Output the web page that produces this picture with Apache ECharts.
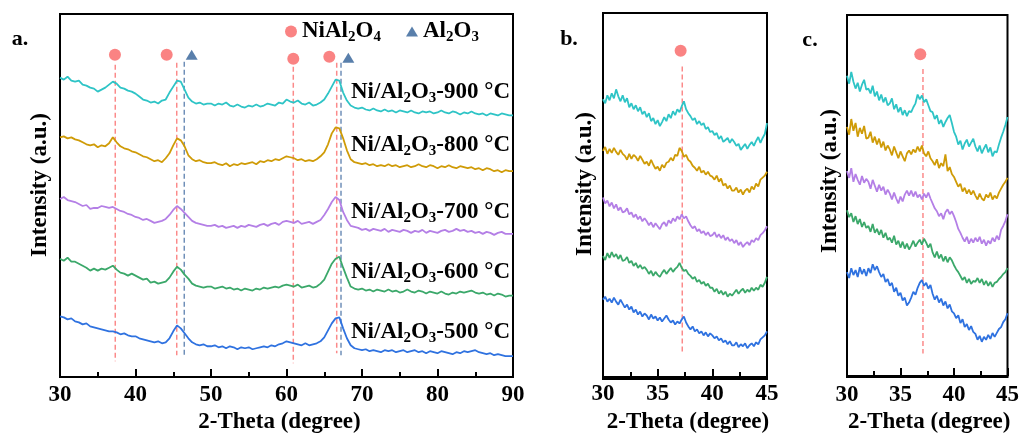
<!DOCTYPE html>
<html><head><meta charset="utf-8">
<script src="https://cdn.jsdelivr.net/npm/echarts@6/dist/echarts.min.js"></script>
<style>html,body{margin:0;padding:0;background:#fff}#c{width:1022px;height:439px}</style>
</head><body><div id="c"></div><script>
// ---------- DATA ----------
// Panel a: 2θ 30–90, step 0.5 (121 samples); intensities (offset-stacked, a.u.)
const thetaA = Array.from({length: 121}, (_, i) => 30 + i * 0.5);
const a900 = [301,299,302,298,297,298,294,293,291,290, 287,289,291,294,297,295,291,290,288,287,
  285,282,279,278,276,277,275,278,279,286, 292,298,297,289,281,277,275,276,274,275,
  275,273,275,274,276,273,272,274,272,271, 273,272,274,272,273,275,274,273,276,275,
  279,277,276,278,275,274,276,273,274,276, 279,285,292,299,298,286,278,273,271,270,
  271,269,268,270,268,267,269,267,268,266, 268,267,266,268,266,265,267,266,267,265,
  266,268,266,265,267,266,264,266,265,267, 265,264,265,263,265,264,263,265,264,263, 263];
const a800 = [241,242,240,241,239,238,236,234,233,234, 231,233,232,235,241,236,232,230,229,227,
  226,224,222,221,219,217,218,216,220,225, 233,240,238,232,223,219,217,218,216,215,
  215,216,214,213,215,212,214,213,215,214, 215,216,214,217,216,218,217,219,218,220,
  222,221,220,218,219,217,218,217,219,222, 226,234,245,251,250,240,228,219,216,215,
  214,215,213,214,212,213,212,214,212,213, 211,212,213,211,212,214,212,211,213,212,
  210,212,211,213,211,210,212,211,210,211, 209,210,208,210,209,207,208,206,208,207, 207];
const a700 = [179,181,178,177,176,174,172,173,169,170, 170,172,171,170,171,169,167,166,164,163,
  161,160,158,159,157,155,156,157,159,163, 168,172,169,165,161,157,155,154,153,152,
  152,153,151,152,150,151,152,150,152,151, 153,152,151,153,154,152,154,155,153,156,
  157,156,155,157,154,155,156,154,156,158, 163,169,176,181,178,166,158,152,151,150,
  148,149,147,149,148,147,149,146,148,147, 146,148,147,145,147,146,148,145,147,146,
  145,147,148,146,147,149,147,148,146,147, 145,146,144,146,145,143,145,146,144,144, 144];
const a600 = [119,117,120,116,116,114,112,110,107,109, 107,109,108,110,112,108,105,104,102,104,
  102,100,98,99,95,96,94,95,96,100, 106,111,108,103,99,94,92,91,90,91,
  91,89,90,91,89,90,88,89,87,89, 88,87,89,88,90,89,90,91,90,92,
  93,92,91,93,90,91,92,90,91,94, 98,106,114,119,121,110,100,91,89,88,
  89,87,88,86,88,87,86,88,86,87, 85,86,88,86,85,87,86,84,86,85,
  84,86,84,83,85,84,86,85,86,87, 85,84,85,83,84,82,84,83,81,82, 82];
const a500 = [61,60,58,59,56,55,53,54,51,50, 49,48,47,46,46,45,43,44,42,41,
  41,39,38,37,36,35,36,34,35,39, 46,52,49,44,39,35,33,32,33,31,
  31,32,30,31,29,31,30,28,30,29, 30,28,29,30,31,30,32,31,33,34,
  36,35,34,33,32,34,32,33,34,36, 40,47,54,59,60,49,39,32,29,28,
  27,28,26,27,26,25,27,26,27,25, 26,27,25,26,27,25,26,24,26,25,
  24,26,25,24,23,25,24,26,25,26, 27,25,24,23,24,22,23,22,21,21, 21];

// Panels b, c: 2θ 30–45, step 0.2 (76 samples)
const thetaBC = Array.from({length: 76}, (_, i) => +(30 + i * 0.2).toFixed(1));
const b900 = [280,276,284,279,286,281,290,283,278,284, 277,281,272,276,270,274,268,272,265,268,
  262,266,258,261,255,259,253,257,262,258, 265,261,268,264,270,267,273,278,270,266,
  263,259,261,255,258,254,256,250,252,247, 248,244,246,240,243,237,239,241,236,240,
  237,233,235,229,232,235,230,234,237,233, 238,242,236,241,245,256];
const b800 = [228,232,225,230,226,231,227,224,229,225, 223,219,225,220,224,222,218,223,219,215,
  217,213,219,214,210,212,208,214,211,216, 217,221,218,224,223,231,228,222,224,219,
  217,213,211,208,212,206,208,204,207,203, 202,199,203,197,200,193,195,190,193,188,
  188,191,186,189,184,188,190,186,192,189, 195,192,199,201,203,207];
const b700 = [181,175,178,172,176,170,174,168,171,166, 167,170,164,166,161,164,159,162,157,160,
  157,153,156,151,155,152,149,154,156,152, 158,155,160,157,162,159,164,160,162,157,
  153,150,152,147,149,145,147,143,146,142, 143,146,141,144,140,143,138,141,137,139,
  135,138,133,136,131,134,136,133,138,136, 140,138,143,145,148,152];
const b600 = [122,118,125,120,126,121,124,119,123,117, 118,121,115,117,112,115,110,113,109,111,
  108,104,107,102,106,103,101,105,108,104, 107,110,106,109,111,115,110,107,108,104,
  102,99,101,96,98,94,96,92,94,90, 90,86,89,84,87,83,86,81,84,82,
  85,88,84,87,89,85,88,86,90,87, 90,88,93,91,95,101];
const b500 = [78,81,76,79,75,80,76,73,78,74, 70,73,68,71,65,68,63,66,61,64,
  62,58,63,59,61,57,60,56,59,62, 58,55,57,53,56,54,58,61,55,51,
  48,51,46,48,44,46,42,45,41,44, 42,39,41,37,39,35,37,33,36,32,
  32,35,30,33,31,34,29,32,34,31, 35,33,38,40,42,46];

const c900 = [306,298,310,300,293,299,290,297,302,292, 293,288,296,285,290,281,287,279,284,276,
  278,283,272,277,269,274,266,271,265,270, 269,274,278,287,282,286,279,282,276,270,
  269,262,266,257,261,254,259,263,266,258, 249,244,236,240,231,237,241,234,238,242,
  234,229,235,227,232,236,228,233,224,229, 228,236,243,249,256,264];
const c800 = [254,246,262,250,258,244,253,247,255,242, 243,249,238,244,236,242,233,239,230,235,
  231,225,234,228,222,229,224,219,227,230, 226,231,228,234,229,235,227,224,229,222,
  219,215,221,212,217,214,226,209,213,206, 203,198,193,196,188,192,186,190,185,189,
  184,180,186,181,179,185,182,187,180,184, 181,187,191,195,198,202];
const c700 = [209,202,212,198,206,200,195,204,197,201, 198,191,200,194,188,195,189,193,185,190,
  186,180,187,181,176,183,178,185,189,184, 189,183,188,182,185,180,186,182,187,181,
  176,171,168,163,166,160,167,170,165,168, 163,157,150,146,141,137,142,135,140,136,
  141,137,142,135,139,133,138,135,141,137, 143,139,149,153,158,165];
const c600 = [169,162,166,157,163,155,160,152,157,151, 153,147,155,146,150,144,149,141,146,139,
  141,136,143,134,138,131,137,130,135,129, 133,138,132,136,139,134,140,136,131,135,
  126,121,127,120,124,117,122,116,121,118, 113,109,106,102,98,101,95,99,94,97,
  96,100,95,99,93,97,92,96,91,95, 96,99,101,104,106,110];
const c500 = [106,100,110,103,108,101,111,104,109,102, 110,105,114,108,112,106,101,104,96,99,
  92,95,86,90,82,85,77,80,72,75, 80,86,83,90,95,98,92,95,89,93,
  84,78,82,75,79,72,76,69,73,66, 64,59,62,54,58,50,53,47,51,45,
  43,37,41,35,40,37,42,38,44,40, 44,48,50,55,58,64];

const seriesNames = ['900', '800', '700', '600', '500'];
const seriesColors = ['#2ec4c6', '#cf9b07', '#b47fe6', '#3ba86a', '#2f72e0'];

// Reference peak markers (panel a)
const niAl2O4PeakX = [37.28, 44.13, 60.9, 65.67];
const niAl2O4PeakY = [324, 324, 320, 322];
const al2o3PeakX = [47.44, 68.19];
const al2o3PeakY = [324, 321];
// Dashed guide lines (panel a)
const redGuideX = [37.32, 45.46, 60.9, 66.65];
const redGuideTop = [314, 316, 312, 316];
const redGuideBot = [16, 22, 14, 24];
const blueGuideX = [46.46, 67.22];
const blueGuideTop = [317, 316];
const blueGuideBot = [20, 22];
// Panels b, c guide + marker
const bGuideX = 37.25, bMarkX = 37.1;
const cGuideX = 37.1, cMarkX = 36.85;

// ---------- CHART ----------
const FF = '"Liberation Serif","Times New Roman",serif';
const FS = 23;
const chart = echarts.init(document.getElementById('c'));
const zip = (xs, ys) => xs.map((x, i) => [x, ys[i]]);

function xAx(gi, min, max, interval, margin, gap, pad) {
  return {
    type: 'value', gridIndex: gi, min, max, interval,
    axisLine: {show: true, lineStyle: {color: '#000', width: 2}},
    axisTick: {show: true, inside: true, length: 8, lineStyle: {color: '#000', width: 2}},
    minorTick: {show: true, splitNumber: 2, length: 5, lineStyle: {color: '#000', width: 2}},
    splitLine: {show: false}, minorSplitLine: {show: false},
    axisLabel: {color: '#000', fontFamily: FF, fontWeight: 'bold', fontSize: FS, margin},
    name: '2-Theta (degree)', nameLocation: 'middle', nameGap: gap,
    nameTextStyle: {color: '#000', fontFamily: FF, fontWeight: 'bold', fontSize: FS, padding: pad}
  };
}
function yAx(gi, min, max) {
  return {type: 'value', gridIndex: gi, min, max, axisLine: {show: false}, axisTick: {show: false},
    axisLabel: {show: false}, splitLine: {show: false}};
}

const series = [];
function guide(xi, x, top, bot, color) {
  series.push({type: 'line', xAxisIndex: xi, yAxisIndex: xi, data: [[x, top], [x, bot]],
    showSymbol: false, silent: true, z: 1, lineStyle: {color, width: 1.5, type: [5, 3]}});
}
redGuideX.forEach((x, i) => guide(0, x, redGuideTop[i], redGuideBot[i], '#fb8a8a'));
blueGuideX.forEach((x, i) => guide(0, x, blueGuideTop[i], blueGuideBot[i], '#6f8fb8'));
guide(1, bGuideX, 313, 23, '#fb8a8a');
guide(2, cGuideX, 313, 23, '#fb8a8a');

const panelA = [a900, a800, a700, a600, a500];
const panelB = [b900, b800, b700, b600, b500];
const panelC = [c900, c800, c700, c600, c500];
[[panelA, thetaA], [panelB, thetaBC], [panelC, thetaBC]].forEach(([set, xs], pi) => {
  set.forEach((ys, k) => series.push({
    type: 'line', name: seriesNames[k] + '-' + pi, xAxisIndex: pi, yAxisIndex: pi,
    data: zip(xs, ys), showSymbol: false, z: 2,
    lineStyle: {color: seriesColors[k], width: 1.8}
  }));
});

series.push({type: 'scatter', name: 'NiAl2O4', xAxisIndex: 0, yAxisIndex: 0, symbol: 'circle', symbolSize: 12,
  itemStyle: {color: '#f96464'}, data: zip(niAl2O4PeakX, niAl2O4PeakY), z: 3});
series.push({type: 'scatter', name: 'Al2O3', xAxisIndex: 0, yAxisIndex: 0, symbol: 'triangle', symbolSize: [12, 10],
  itemStyle: {color: '#2f5f96'}, data: zip(al2o3PeakX, al2o3PeakY), z: 3});
series.push({type: 'scatter', name: 'NiAl2O4', xAxisIndex: 1, yAxisIndex: 1, symbol: 'circle', symbolSize: 12,
  itemStyle: {color: '#f96464'}, data: [[bMarkX, 329]], z: 3});
series.push({type: 'scatter', name: 'NiAl2O4', xAxisIndex: 2, yAxisIndex: 2, symbol: 'circle', symbolSize: 12,
  itemStyle: {color: '#f96464'}, data: [[cMarkX, 328]], z: 3});

const richOpt = {
  n: {fontFamily: FF, fontWeight: 'bold', fontSize: FS, color: '#000'},
  s: {fontFamily: FF, fontWeight: 'bold', fontSize: 15, color: '#000', verticalAlign: 'bottom', lineHeight: 26}
};
const legendFmt = n => n === 'NiAl2O4' ? '{n|NiAl}{s|2}{n|O}{s|4}' : '{n|Al}{s|2}{n|O}{s|3}';
function leg(name, icon, left, w, h) {
  return {data: [{name, icon}], left, top: 20, padding: 0, itemWidth: w, itemHeight: h, selectedMode: false,
    formatter: legendFmt, textStyle: {rich: richOpt, fontFamily: FF, fontSize: FS, fontWeight: 'bold', color: '#000'}};
}

const gRich = {
  n: {fontFamily: FF, fontWeight: 'bold', fontSize: FS, fill: '#000'},
  s: {fontFamily: FF, fontWeight: 'bold', fontSize: 15, fill: '#000', verticalAlign: 'bottom', lineHeight: 27}
};
const labelY = [91.7, 145, 211.7, 271.7, 331.7];
const graphic = [];
seriesNames.forEach((t, i) => graphic.push({type: 'text', x: 510, y: labelY[i], z: 10,
  style: {text: '{n|Ni/Al}{s|2}{n|O}{s|3}{n|-' + t + ' °C}', rich: gRich, align: 'right', verticalAlign: 'middle'}}));
[['a.', 20, 39], ['b.', 569, 39], ['c.', 810, 40]].forEach(([t, x, y]) => graphic.push({type: 'text', x, y,
  style: {text: t, font: 'bold 22px ' + FF, fill: '#000', align: 'center', verticalAlign: 'middle'}}));
[[40, 185], [585, 184], [830, 181]].forEach(([x, y]) => graphic.push({type: 'text', x, y, rotation: Math.PI / 2,
  style: {text: 'Intensity (a.u.)', font: 'bold 23px ' + FF, fill: '#000', align: 'center', verticalAlign: 'middle'}}));

chart.setOption({
  animation: false,
  backgroundColor: '#fff',
  grid: [
    {left: 60, top: 14, width: 453, height: 365, show: true, borderColor: '#000', borderWidth: 2},
    {left: 603, top: 13, width: 164, height: 369, show: true, borderColor: '#000', borderWidth: 2},
    {left: 847, top: 15, width: 162, height: 368, show: true, borderColor: '#000', borderWidth: 2}
  ],
  xAxis: [xAx(0, 30, 90, 10, 6, 29, [0, 14, 0, 0]), xAx(1, 30, 45, 5, 4, 32, [0, 0, 0, 6]), xAx(2, 30, 45, 5, 6, 33, [0, 0, 0, 4])],
  yAxis: [yAx(0, 0, 365), yAx(1, -2, 367), yAx(2, -1, 368)],
  legend: [leg('NiAl2O4', 'circle', 285, 12, 12), leg('Al2O3', 'triangle', 406, 12, 10)],
  series, graphic
});
</script></body></html>
